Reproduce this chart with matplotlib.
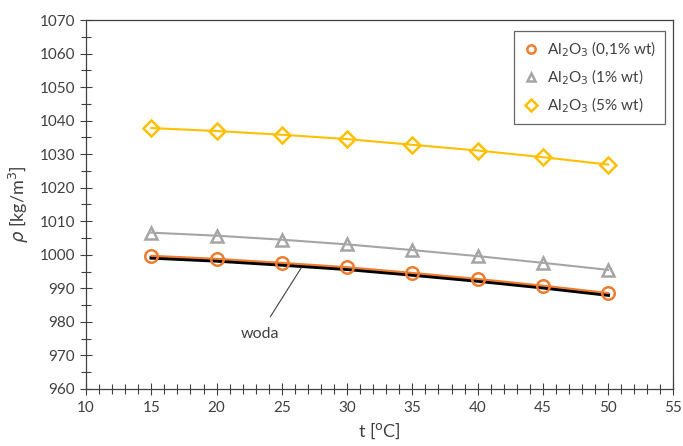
import matplotlib
matplotlib.use("Agg")
import matplotlib.pyplot as plt
from matplotlib.ticker import MultipleLocator

plt.rcParams['font.family'] = ['Lato', 'DejaVu Sans']

t = [15, 20, 25, 30, 35, 40, 45, 50]
woda = [999.1, 998.2, 997.0, 995.7, 994.0, 992.2, 990.2, 988.0]
al_01 = [999.7, 998.8, 997.6, 996.3, 994.6, 992.8, 990.8, 988.6]
al_1 = [1006.6, 1005.7, 1004.5, 1003.1, 1001.4, 999.6, 997.6, 995.5]
al_5 = [1037.8, 1036.9, 1035.8, 1034.5, 1032.8, 1031.1, 1029.1, 1026.9]

fig = plt.figure(figsize=(6.83, 4.46), dpi=100)
ax = fig.add_axes([0.126, 0.128, 0.860, 0.827])

ax.plot(t, woda, color='black', lw=2.6, zorder=2)
ax.plot(t, al_01, color='#ED7D31', lw=1.5, marker='o', ms=9, mfc='none', mew=1.8,
        label=r'Al$_2$O$_3$ (0,1% wt)', zorder=3)
ax.plot(t, al_1, color='#A5A5A5', lw=1.5, marker='^', ms=9, mfc='none', mew=1.8,
        label=r'Al$_2$O$_3$ (1% wt)', zorder=3)
ax.plot(t, al_5, color='#FFC000', lw=1.5, marker='D', ms=8, mfc='none', mew=1.8,
        label=r'Al$_2$O$_3$ (5% wt)', zorder=3)

ax.annotate('woda', xy=(26.5, 996.2), xytext=(23.3, 976.5), fontsize=11.5,
            color='#404040', ha='center', va='center',
            arrowprops=dict(arrowstyle='-', color='#404040', lw=0.8,
                            shrinkA=6, shrinkB=0))

ax.set_xlim(10, 55)
ax.set_ylim(960, 1070)
ax.xaxis.set_major_locator(MultipleLocator(5))
ax.xaxis.set_minor_locator(MultipleLocator(1))
ax.yaxis.set_major_locator(MultipleLocator(10))
ax.yaxis.set_minor_locator(MultipleLocator(5))
ax.tick_params(which='major', direction='inout', length=9, width=0.8, labelsize=11,
               colors='#404040', labelcolor='#404040')
ax.tick_params(which='minor', direction='inout', length=7, width=0.8, colors='#404040')
ax.tick_params(axis='x', which='major', pad=4)

for s in ax.spines.values():
    s.set_color('#404040')
    s.set_linewidth(0.9)

ax.set_xlabel(r't [$^{\mathrm{o}}$C]', fontsize=13, color='#404040')
ax.set_ylabel(r'$\rho$ [kg/m$^3$]', fontsize=13, color='#404040', labelpad=6)

leg = ax.legend(loc='upper right', bbox_to_anchor=(0.993, 0.983), fontsize=11,
                frameon=True, fancybox=False, edgecolor='#404040', handlelength=1.0,
                handletextpad=0.5, borderpad=0.6, labelspacing=0.55,
                borderaxespad=0.3)
leg.get_frame().set_linewidth(0.9)
for line in leg.get_lines():
    line.set_linestyle('none')
    line.set_markersize(6)
for txt in leg.get_texts():
    txt.set_color('#404040')

fig.savefig('out.png', dpi=100)
